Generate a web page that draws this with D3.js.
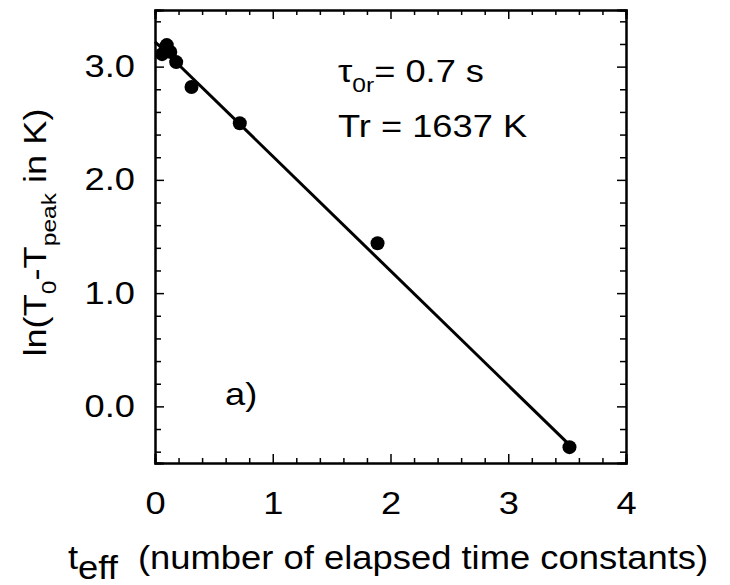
<!DOCTYPE html>
<html>
<head>
<meta charset="utf-8">
<script src="https://cdn.jsdelivr.net/npm/d3@7"></script>
<style>
  body { margin: 0; background: #fff; }
  svg { font-family: "Liberation Sans", Arial, sans-serif; }
  .axis path { stroke: #000; stroke-width: 2; }
  .axis line { stroke: #000; stroke-width: 1.5; }
  .axis text { font-size: 31px; fill: #000; }
</style>
</head>
<body>
<script>
// data
var tEff = [0.06, 0.10, 0.13, 0.18, 0.31, 0.72, 1.89, 3.52];
var lnDiff = [3.11, 3.19, 3.13, 3.04, 2.82, 2.50, 1.44, -0.36];
// fitted straight line, end points
var fitX = [0, 3.52];
var fitY = [3.22, -0.34];

var xTicks = [0, 1, 2, 3, 4];
var yTicks = [0, 1, 2, 3];

// the lettering in the original is a bit wider than Arial
var k = 1.17;

// Define margins
var margin = {top: 10, right: 104, bottom: 122, left: 155},
    width = 730 - margin.left - margin.right,
    height = 585 - margin.top - margin.bottom;

var x = d3.scaleLinear().domain([0, 4]).range([0, width]);
var y = d3.scaleLinear().domain([-0.5, 3.5]).range([height, 0]);

var xMinor = d3.range(0, 4.001, 0.2).filter(function(d) { return Math.abs(d - Math.round(d)) > 1e-6; });
var yMinor = d3.range(-0.4, 3.401, 0.2).filter(function(d) { return Math.abs(d - Math.round(d)) > 1e-6; });

var svg = d3.select("body").append("svg")
    .attr("width", 730)
    .attr("height", 585)
  .append("g")
    .attr("transform", "translate(" + margin.left + "," + margin.top + ")");

// widen a text horizontally, keeping its anchor where it was
function widen(sel) {
  sel.each(function() {
    var t = d3.select(this);
    t.attr("x", (+t.attr("x") || 0) / k)
     .attr("transform", (t.attr("transform") || "") + " scale(" + k + ",1)");
  });
}

// minor ticks, all four sides
svg.append("g").attr("class", "axis")
    .attr("transform", "translate(0," + height + ")")
    .call(d3.axisBottom(x).tickValues(xMinor).tickSize(-5).tickFormat(""));
svg.append("g").attr("class", "axis")
    .call(d3.axisTop(x).tickValues(xMinor).tickSize(-5).tickFormat(""));
svg.append("g").attr("class", "axis")
    .call(d3.axisLeft(y).tickValues(yMinor).tickSize(-6).tickFormat(""));
svg.append("g").attr("class", "axis")
    .attr("transform", "translate(" + width + ",0)")
    .call(d3.axisRight(y).tickValues(yMinor).tickSize(-6).tickFormat(""));

// major ticks with labels
svg.append("g").attr("class", "axis")
    .attr("transform", "translate(0," + height + ")")
    .call(d3.axisBottom(x).tickValues(xTicks).tickSize(-9).tickPadding(29).tickFormat(d3.format("d")))
    .selectAll("text").call(widen);
svg.append("g").attr("class", "axis")
    .call(d3.axisTop(x).tickValues(xTicks).tickSize(-9).tickFormat(""));
svg.append("g").attr("class", "axis")
    .call(d3.axisLeft(y).tickValues(yTicks).tickSize(-9).tickPadding(20).tickFormat(d3.format(".1f")))
    .selectAll("text").call(widen);
svg.append("g").attr("class", "axis")
    .attr("transform", "translate(" + width + ",0)")
    .call(d3.axisRight(y).tickValues(yTicks).tickSize(-9).tickFormat(""));

// fit line
var line = d3.line()
    .x(function(d) { return x(d[0]); })
    .y(function(d) { return y(d[1]); });

svg.append("path")
    .datum(d3.zip(fitX, fitY))
    .attr("d", line)
    .attr("fill", "none")
    .attr("stroke", "#000")
    .attr("stroke-width", 3);

// points
svg.selectAll(".dot")
    .data(d3.zip(tEff, lnDiff))
  .enter().append("circle")
    .attr("class", "dot")
    .attr("cx", function(d) { return x(d[0]); })
    .attr("cy", function(d) { return y(d[1]); })
    .attr("r", 7)
    .style("fill", "#000");

// annotations
var t1 = svg.append("text")
    .attr("x", 183).attr("y", 72)
    .style("font-size", "31px");
t1.append("tspan").text("\u03c4");
t1.append("tspan").attr("dy", 10).style("font-size", "21px").text("0r");
t1.append("tspan").attr("dy", -10).text("= 0.7 s");
t1.call(widen);

svg.append("text")
    .attr("x", 183).attr("y", 127)
    .style("font-size", "31px")
    .text("Tr = 1637 K")
    .call(widen);

svg.append("text")
    .attr("x", 70).attr("y", 395)
    .style("font-size", "31px")
    .text("a)")
    .call(widen);

// y axis title
var yt = svg.append("text")
    .attr("transform", "translate(-109," + (height / 2 - 4) + ") rotate(-90) scale(" + k + ",1)")
    .style("text-anchor", "middle")
    .style("font-size", "31px");
yt.append("tspan").text("ln(T");
yt.append("tspan").attr("dy", 10).style("font-size", "21px").text("0");
yt.append("tspan").attr("dy", -10).text("-T");
yt.append("tspan").attr("dy", 10).style("font-size", "21px").text("peak");
yt.append("tspan").attr("dy", -10).text(" in K)");

// x axis title
var kx = 1.07;
var xt = svg.append("text")
    .attr("y", height + 106)
    .style("font-size", "34px")
    .attr("transform", "scale(" + kx + ",1)");
xt.append("tspan").attr("x", -87 / kx).text("t");
xt.append("tspan").attr("dy", 10).text("eff");
xt.append("tspan").attr("x", -17 / kx).attr("dy", -10).text("(number of elapsed time constants)");
</script>
</body>
</html>
